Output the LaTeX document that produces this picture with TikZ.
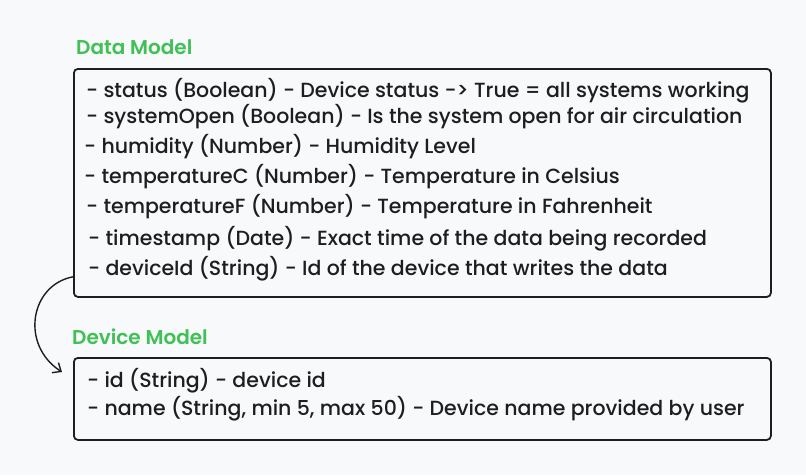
\documentclass[tikz,border=0pt]{standalone}
\usepackage{fontspec}
\setmainfont{Poppins Medium}
\newfontfamily\titlefont{Poppins SemiBold}
\usetikzlibrary{arrows.meta}
\definecolor{inkblack}{HTML}{1E1E1E}
\definecolor{titlegreen}{HTML}{40C057}
\definecolor{paper}{HTML}{F8F9FA}
\begin{document}
\begin{tikzpicture}[x=1pt,y=-1pt,
  modelbox/.style={rectangle,draw=inkblack,line width=1.8pt,rounded corners=4pt,inner sep=0pt,anchor=north west},
  field/.style={anchor=mid west,inner sep=0pt,text=inkblack,font=\fontsize{20.5}{24}\selectfont},
  title/.style={anchor=mid west,inner sep=0pt,text=titlegreen,font=\titlefont\fontsize{20}{24}\selectfont}]
\fill[paper] (0,0) rectangle (806,475);
\path (76,52) node[title] (datatitle) {Data Model};
\path (73,68) node[modelbox,minimum width=697pt,minimum height=228pt] (databox) {};
\path (86,95) node[field] (status) {- status (Boolean) - Device status -> True = all systems working};
\path (86,121) node[field] (systemopen) {- systemOpen (Boolean) - Is the system open for air circulation};
\path (84,151) node[field] (humidity) {- humidity (Number) - Humidity Level};
\path (84,181) node[field] (tempc) {- temperatureC (Number) - Temperature in Celsius};
\path (86,211) node[field] (tempf) {- temperatureF (Number) - Temperature in Fahrenheit};
\path (88,243) node[field] (timestamp) {- timestamp (Date) - Exact time of the data being recorded};
\path (88,273) node[field] (deviceid) {- deviceId (String) - Id of the device that writes the data};
% \nf
\path (72,342) node[title] (devicetitle) {Device Model};
\path (73,357) node[modelbox,minimum width=697pt,minimum height=82pt] (devicebox) {};
\path (87,385) node[field] (id) {- id (String) - device id};
\path (87,413) node[field] (name) {- name (String, min 5, max 50) - Device name provided by user};
% \nf
\draw[->,>={Straight Barb[length=7pt,width=12pt]},line width=1.4pt,draw=inkblack]
  ([yshift=21pt]databox.south west) .. controls (30,285) and (20,345) .. ([xshift=-11pt,yshift=-15pt]devicebox.north west);
\end{tikzpicture}
\end{document}
